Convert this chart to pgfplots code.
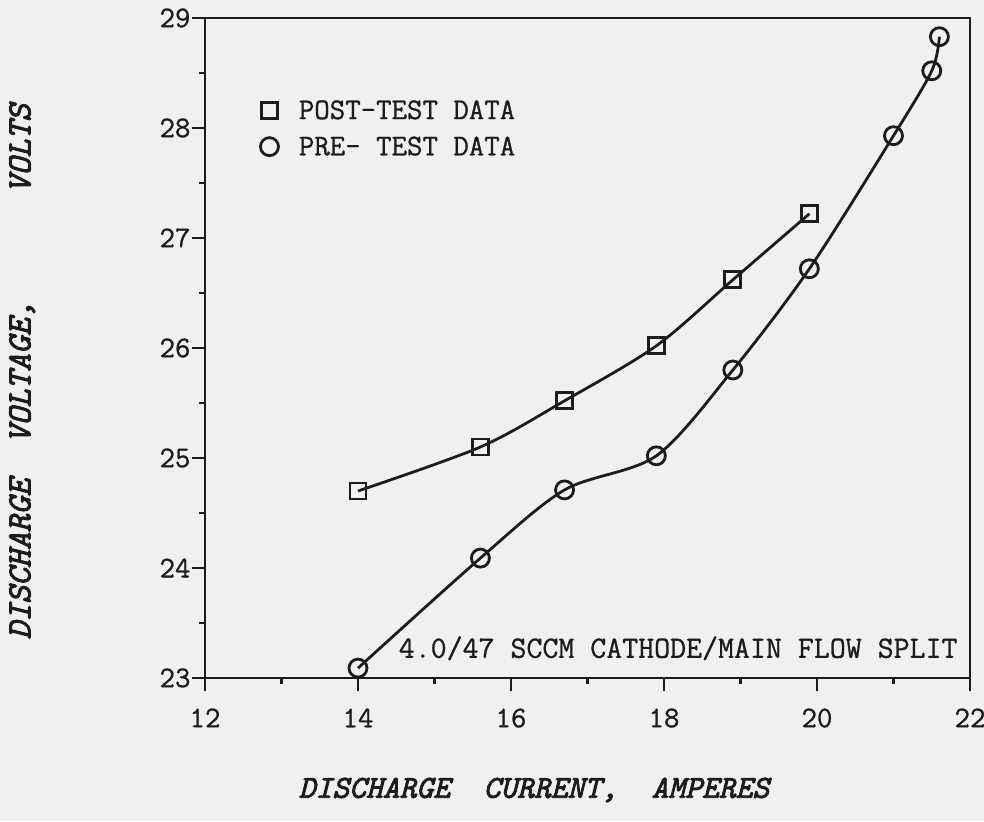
\documentclass[border=0pt]{standalone}
\usepackage{pgfplots}
\pgfplotsset{compat=1.18}
\usepackage{fontspec}
\newfontfamily\typewriter{Latin Modern Mono}[FakeBold=0.9]
\newfontfamily\typewriterbold{Latin Modern Mono}[FakeBold=2.6]

\definecolor{paper}{RGB}{239,240,242}
\definecolor{ink}{RGB}{28,28,28}

\newcommand{\tickfont}{\typewriter\fontsize{30}{33}\selectfont}
\newcommand{\notefont}{\typewriter\fontsize{31}{34}\selectfont}
\newcommand{\xlabelfont}{\typewriterbold\itshape\fontsize{32}{35}\selectfont}
\newcommand{\ylabelfont}{\typewriterbold\itshape\fontsize{34}{37}\selectfont}

% Post-test and pre-test discharge characteristics
\pgfplotstableread{
I     V
14.0  24.70
15.6  25.10
16.7  25.52
17.9  26.02
18.9  26.62
19.9  27.22
}\posttest
\pgfplotstableread{
I     V
14.0  23.09
15.6  24.09
16.7  24.71
17.9  25.02
18.9  25.80
19.9  26.72
21.0  27.93
21.5  28.52
21.6  28.83
}\pretest

\begin{document}
\begin{tikzpicture}
\useasboundingbox[fill=paper] (-205pt,-143pt) rectangle (779pt,678pt);
\begin{axis}[
  at={(0pt,0pt)}, anchor=south west,
  scale only axis,
  width=765pt, height=660pt,
  xmin=12, xmax=22, ymin=23, ymax=29,
  xtick={12,14,...,22}, ytick={23,24,...,29},
  minor x tick num=1, minor y tick num=1,
  tick align=outside,
  xtick pos=bottom, ytick pos=left,
  major tick length=13pt, minor tick length=6pt,
  every tick/.style={ink, line width=2.4pt},
  axis line style={ink, line width=2.6pt},
  /pgf/number format/assume math mode=true,
  ticklabel style={font=\tickfont, text=ink},
  xticklabel style={yshift=-14pt},
  yticklabel style={xshift=2pt},
  xlabel={DISCHARGE\ \ CURRENT,\ \ AMPERES},
  ylabel={DISCHARGE\ \ VOLTAGE,\ \ \ \ \ \ VOLTS},
  xlabel style={font=\xlabelfont, text=ink, at={(axis description cs:0.43,0)}, anchor=center, yshift=-112pt},
  ylabel style={font=\ylabelfont, text=ink, at={(axis description cs:-0.239,0.464)}, anchor=center},
  legend style={at={(axis cs:12.72,28.27)}, anchor=north west, draw=none, fill=none,
    font=\tickfont, text=ink, row sep=12pt,
    inner sep=0pt, outer sep=0pt},
  legend cell align=left,
  legend image code/.code={\draw[#1] plot coordinates {(8pt,0pt)}; \path (0pt,0pt) (34pt,0pt);},
  clip=false,
]
% fitted curves through the data
\addplot[ink, line width=2.8pt, smooth, forget plot] table[x=I,y=V] {\posttest};
\addplot[ink, line width=2.8pt, smooth, forget plot] table[x=I,y=V] {\pretest};
% data points
\addplot[only marks, mark=square, mark size=8pt, ink, line width=2.8pt] table[x=I,y=V] {\posttest};
\addlegendentry{POST-TEST DATA}
\addplot[only marks, mark=o, mark size=9pt, ink, line width=2.8pt] table[x=I,y=V] {\pretest};
\addlegendentry{PRE- TEST DATA}
\node[anchor=east, font=\notefont, text=ink, inner sep=0pt] at (axis cs:21.84,23.27) {4.0/47 SCCM CATHODE/MAIN FLOW SPLIT};
\end{axis}
\end{tikzpicture}
\end{document}
